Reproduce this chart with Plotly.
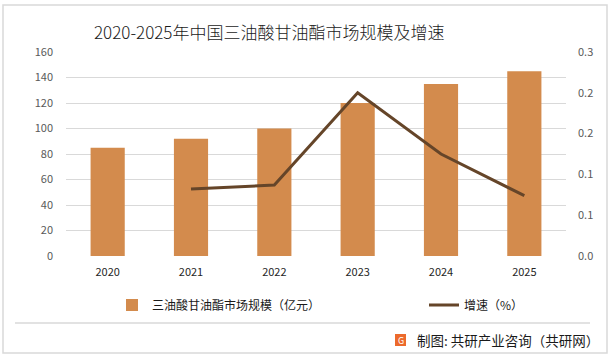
import plotly.graph_objects as go

years = ["2020", "2021", "2022", "2023", "2024", "2025"]
market_size = [85, 92, 100, 120, 135, 145]
growth_years = ["2021", "2022", "2023", "2024", "2025"]
growth_rate = [0.082, 0.087, 0.200, 0.125, 0.074]
left_ticks = [0, 20, 40, 60, 80, 100, 120, 140, 160]
right_tickvals = [0, 0.05, 0.10, 0.15, 0.20, 0.25]
right_ticktext = ["0.0", "0.1", "0.1", "0.2", "0.2", "0.3"]

W, H = 613, 359
L, R, T, B = 66, 566, 52, 256


def px(x):
    return (x - L) / (R - L)


def py(y):
    return (B - y) / (B - T)


FONT = "Noto Sans CJK SC, Noto Sans, sans-serif"

fig = go.Figure()
fig.add_trace(go.Bar(
    x=years, y=market_size, name="三油酸甘油酯市场规模（亿元）",
    marker=dict(color="#D38B4D", line=dict(width=0)), yaxis="y", legend="legend",
))
fig.add_trace(go.Scatter(
    x=growth_years, y=growth_rate, name="增速（%）", mode="lines",
    line=dict(color="#654529", width=3), yaxis="y2", legend="legend2",
))

shapes = [
    dict(type="rect", xref="paper", yref="paper", x0=px(3), x1=px(607), y0=py(353), y1=py(5),
         line=dict(color="#d9d9d9", width=1.5), fillcolor="rgba(0,0,0,0)", layer="below"),
    dict(type="line", xref="paper", yref="paper", x0=px(15), x1=px(590), y0=py(323), y1=py(323),
         line=dict(color="#d9d9d9", width=1.5)),
    dict(type="rect", xref="paper", yref="paper", x0=px(395), x1=px(406), y0=py(346), y1=py(334),
         line=dict(width=0), fillcolor="#EC6A2C"),
]

annotations = [
    dict(text="2020-2025年中国三油酸甘油酯市场规模及增速", xref="paper", yref="paper",
         x=px(269), y=py(32), xanchor="center", yanchor="middle", showarrow=False,
         font=dict(family=FONT, size=17, color="#1a1a1a", weight=300)),
    dict(text="G", xref="paper", yref="paper", x=px(400.5), y=py(340), xanchor="center",
         yanchor="middle", showarrow=False, font=dict(family=FONT, size=9, color="white")),
    dict(text="制图: 共研产业咨询（共研网）", xref="paper", yref="paper",
         x=px(601), y=py(340), xanchor="right", yanchor="middle", showarrow=False,
         font=dict(family=FONT, size=13.5, color="#1a1a1a")),
]

legend_common = dict(orientation="h", yanchor="middle", xanchor="left", y=py(305),
                     font=dict(family=FONT, size=12, color="#1a1a1a"), bgcolor="rgba(0,0,0,0)")

fig.update_layout(
    width=W, height=H,
    margin=dict(l=L, r=W - R, t=T, b=H - B, pad=0, autoexpand=False),
    paper_bgcolor="white", plot_bgcolor="white",
    font=dict(family=FONT, size=11, color="#595959"),
    bargap=0.59,
    showlegend=True,
    legend=dict(x=px(112), **legend_common),
    legend2=dict(x=px(424), **legend_common),
    xaxis=dict(type="category", categoryorder="array", categoryarray=years, showgrid=False, zeroline=False,
               showline=False, ticks="", tickfont=dict(family=FONT, size=11, color="#262626"),
               ticklabelstandoff=8),
    yaxis=dict(range=[0, 160], tickvals=left_ticks, showgrid=True, gridcolor="#d9d9d9", gridwidth=1,
               zeroline=False, showline=False, ticks="", ticklabelstandoff=12,
               tickfont=dict(family=FONT, size=11, color="#595959")),
    yaxis2=dict(range=[0, 0.25], overlaying="y", side="right", tickvals=right_tickvals,
                ticktext=right_ticktext, showgrid=False, zeroline=False, showline=False, ticks="",
                ticklabelstandoff=11, tickfont=dict(family=FONT, size=11, color="#595959")),
    shapes=shapes,
    annotations=annotations,
)

fig.write_html("out.html", config={"displayModeBar": False},
               post_script="document.body.style.margin='0';document.body.style.overflow='hidden';")
